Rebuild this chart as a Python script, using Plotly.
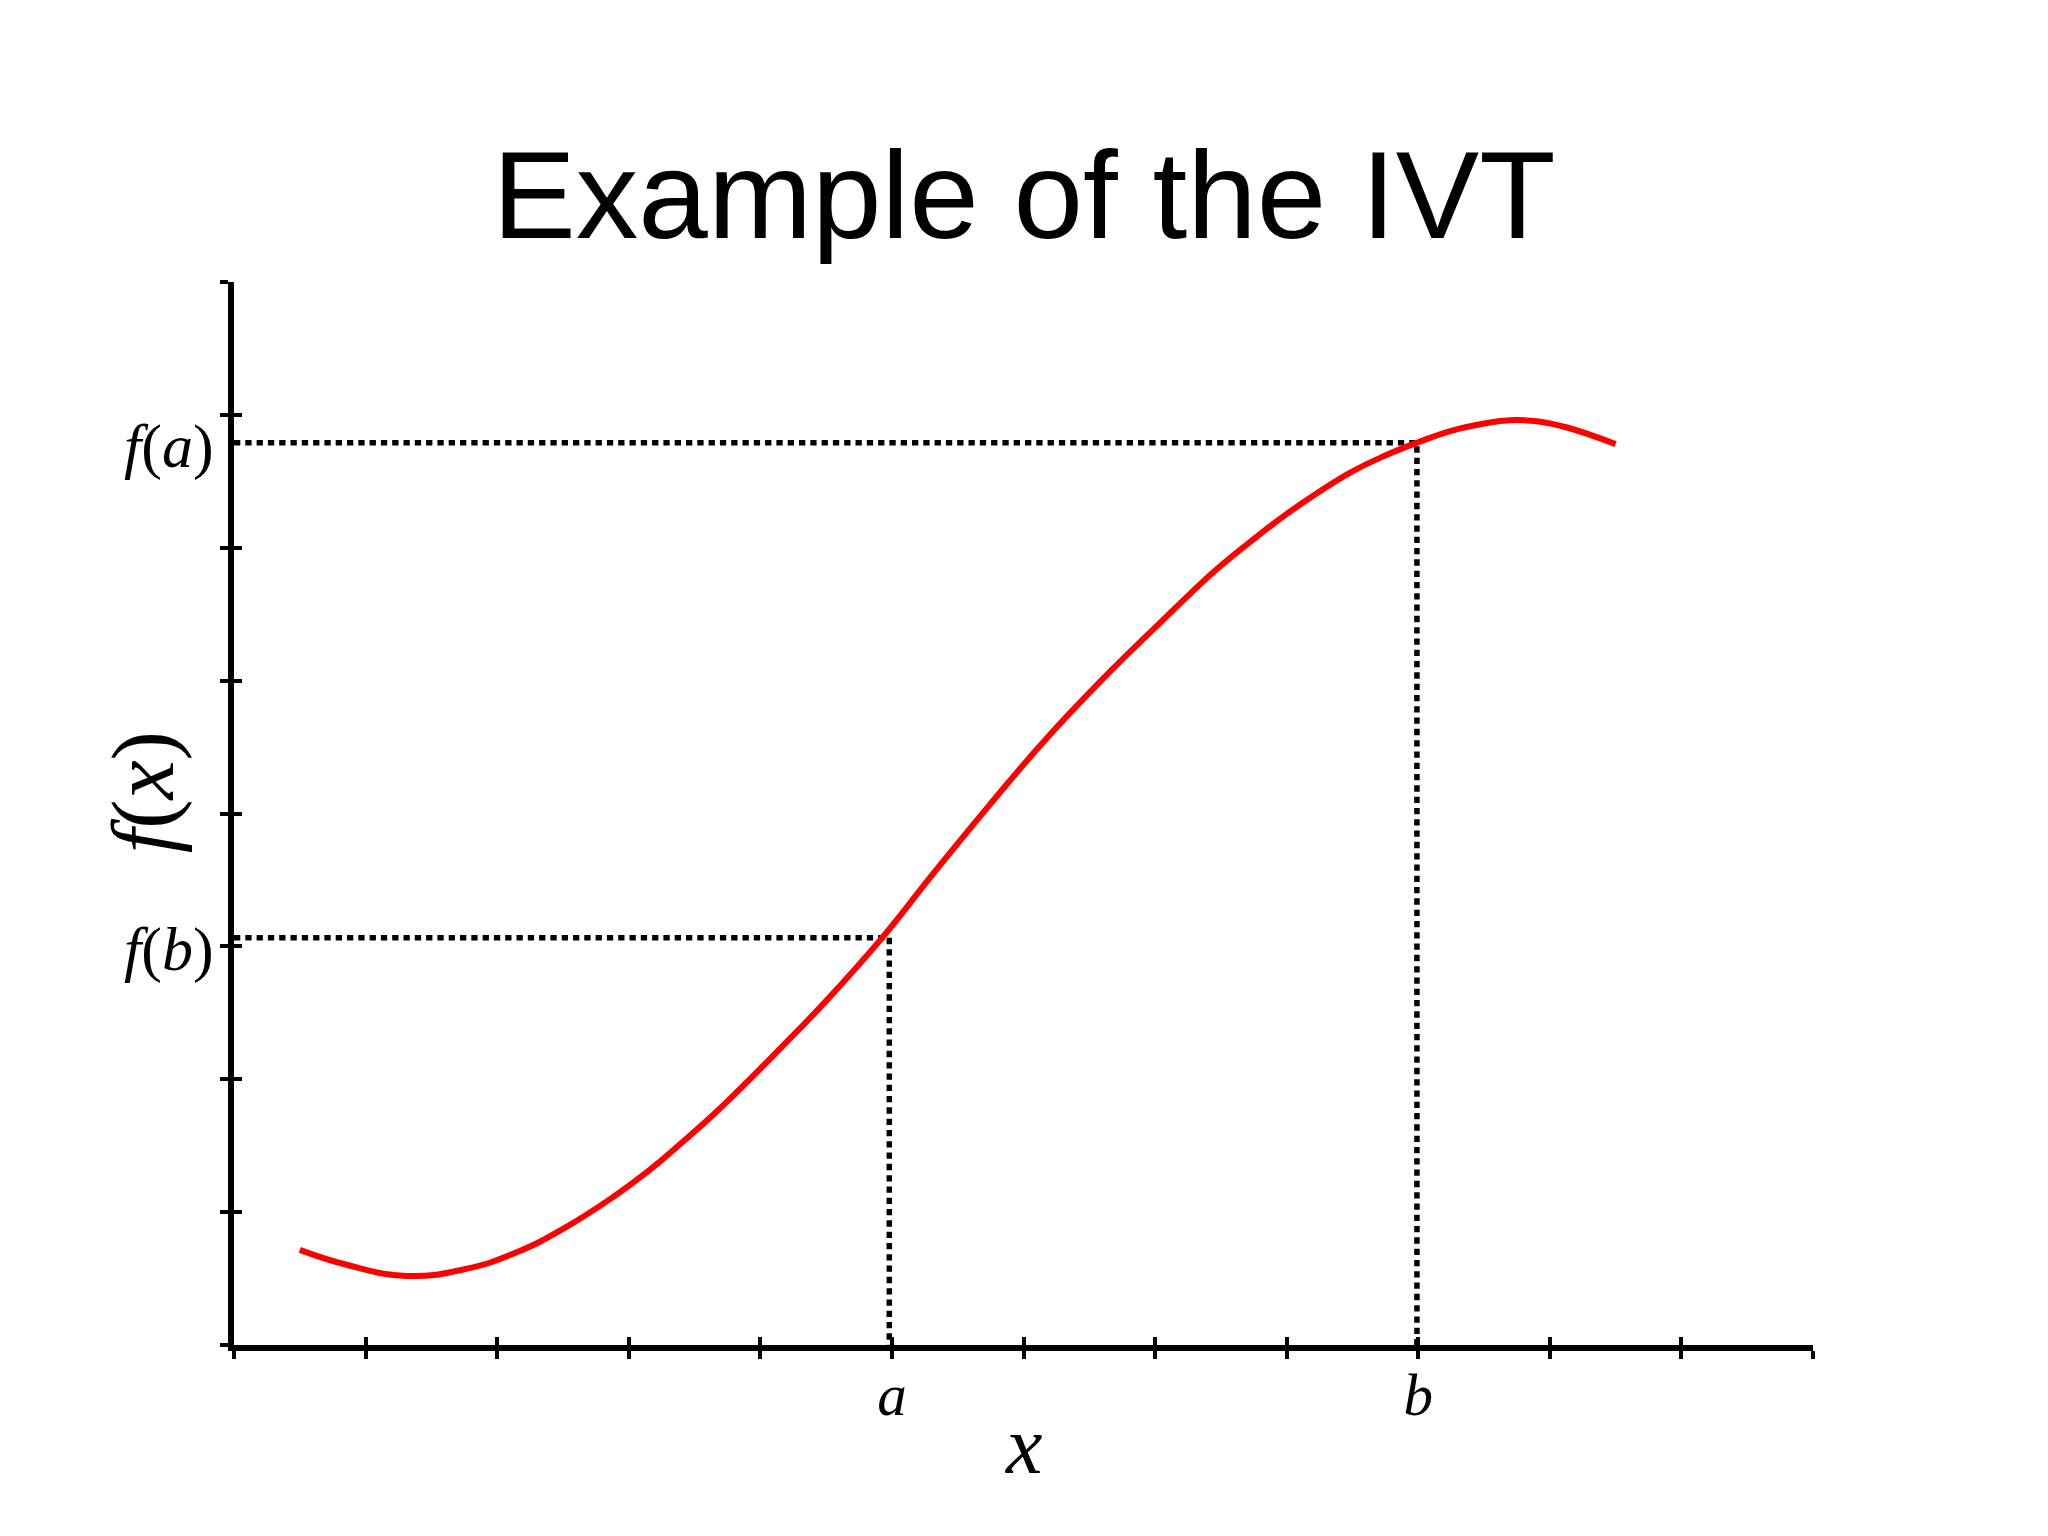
import plotly.graph_objects as go

# ---- data ----
curve_x = [0.50, 0.87, 1.31, 1.75, 2.13, 2.51, 2.89, 3.15, 3.40, 3.65, 3.90, 4.16,
           4.50, 4.93, 5.30, 5.73, 6.18, 6.70, 6.97, 7.22, 7.47, 7.73, 7.98, 8.23,
           8.49, 8.74, 8.99, 9.25, 9.50, 9.70, 9.90, 10.13, 10.50]
curve_y = [0.716, 0.60, 0.52, 0.57, 0.69, 0.88, 1.12, 1.31, 1.52, 1.74, 1.98, 2.24,
           2.59, 3.07, 3.53, 4.05, 4.57, 5.11, 5.37, 5.61, 5.84, 6.05, 6.24, 6.41,
           6.57, 6.69, 6.79, 6.88, 6.935, 6.96, 6.952, 6.905, 6.78]

a_val = 4.98
b_val = 8.99
f_a = 6.79
f_b = 3.065

x_ticks = list(range(0, 13))
x_ticktext = ["" for _ in x_ticks]
x_ticktext[5] = "<i>a</i>"
x_ticktext[9] = "<i>b</i>"
y_ticks = list(range(0, 9))

title_text = "Example of the IVT"
x_title = "<i>x</i>"
y_title = "<i>f</i>(<i>x</i>)"
fa_label = "<i>f</i>(<i>a</i>)"
fb_label = "<i>f</i>(<i>b</i>)"

SERIF = "Liberation Serif, Times New Roman, serif"
SANS = "Liberation Sans, Arial, sans-serif"

W, H = 2032, 1520  # page body has an 8px margin

fig = go.Figure()

dot_line = dict(color="black", width=5.5, dash="6.3px,5px")
fig.add_trace(go.Scatter(x=[0, a_val, a_val], y=[f_b, f_b, 0], mode="lines",
                         line=dot_line, hoverinfo="skip", showlegend=False))
fig.add_trace(go.Scatter(x=[0, b_val, b_val], y=[f_a, f_a, 0], mode="lines",
                         line=dot_line, hoverinfo="skip", showlegend=False))
fig.add_trace(go.Scatter(x=curve_x, y=curve_y, mode="lines",
                         line=dict(color="#ff0000", width=6, shape="spline", smoothing=1.3),
                         showlegend=False))
fig.add_trace(go.Scatter(x=[], y=[], xaxis="x2", yaxis="y2", showlegend=False))

xdom = [226 / W, 1805 / W]
ydom = [(H - 1337) / H, (H - 274) / H]

common = dict(showgrid=False, zeroline=False, ticklen=8, tickwidth=4, tickcolor="black",
              linecolor="black", linewidth=5.5, showline=True)

fig.update_layout(
    width=W, height=H,
    margin=dict(l=0, r=0, t=0, b=0),
    paper_bgcolor="white", plot_bgcolor="white",
    title=dict(text=title_text, x=0.5, xanchor="center", y=1 - 186 / H, yanchor="middle",
               font=dict(family=SANS, size=125, color="black")),
    xaxis=dict(domain=xdom, range=[0, 12], tickmode="array", tickvals=x_ticks,
               ticktext=x_ticktext, ticks="outside", ticklabelstandoff=-15,
               tickfont=dict(family=SERIF, size=59, color="black"),
               anchor="y", **common),
    yaxis=dict(domain=ydom, range=[0, 8], tickmode="array", tickvals=y_ticks,
               showticklabels=False, ticks="outside", anchor="x", **common),
    xaxis2=dict(domain=xdom, range=[0, 12], tickmode="array", tickvals=x_ticks,
                showticklabels=False, ticks="inside", overlaying="x", anchor="y2", **common),
    yaxis2=dict(domain=ydom, range=[0, 8], tickmode="array", tickvals=y_ticks,
                showticklabels=False, ticks="inside", overlaying="y", anchor="x2", **common),
    annotations=[
        dict(text=x_title, xref="x", yref="paper", x=6.0, y=1 - 1437 / H,
             xanchor="center", yanchor="middle", showarrow=False,
             font=dict(family=SERIF, size=82, color="black")),
        dict(text=y_title, xref="paper", yref="y", x=135 / W, y=4.16, textangle=-90,
             xanchor="center", yanchor="middle", showarrow=False,
             font=dict(family=SERIF, size=88, color="black")),
        dict(text=fa_label, xref="paper", yref="y", x=208 / W, y=f_a - 0.03,
             xanchor="right", yanchor="middle", showarrow=False,
             font=dict(family=SERIF, size=62, color="black")),
        dict(text=fb_label, xref="paper", yref="y", x=208 / W, y=f_b - 0.09,
             xanchor="right", yanchor="middle", showarrow=False,
             font=dict(family=SERIF, size=62, color="black")),
    ],
)

fig.write_html("out.html")
